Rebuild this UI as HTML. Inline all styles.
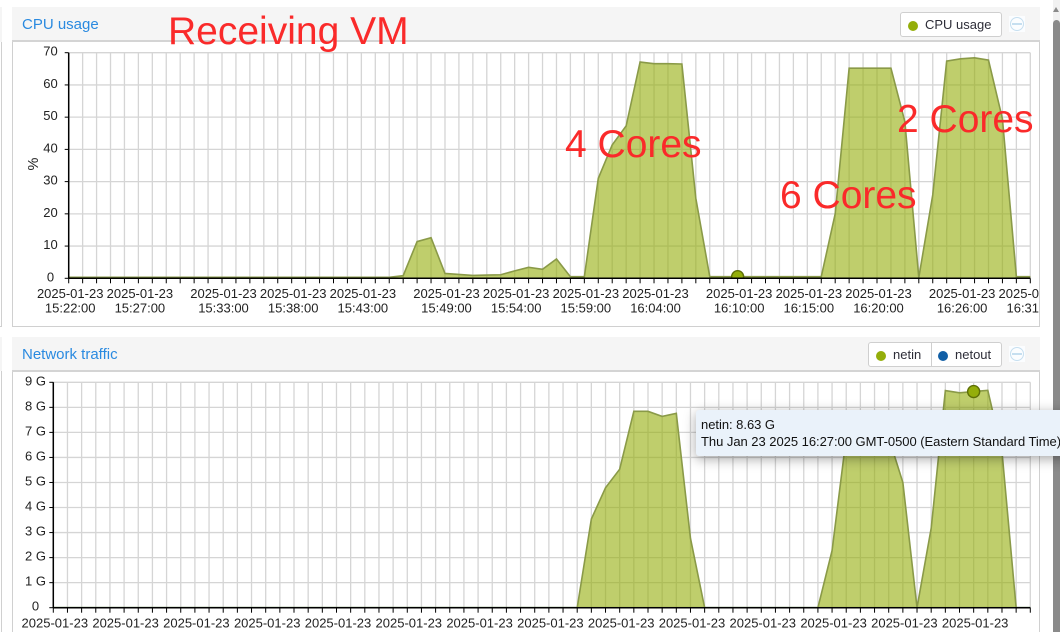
<!DOCTYPE html>
<html lang="en">
<head>
<meta charset="utf-8">
<title>Receiving VM charts</title>
<style>
html,body{margin:0;padding:0;background:#fff;width:1060px;height:632px;overflow:hidden;font-family:"Liberation Sans",sans-serif;}
#page{position:relative;width:1060px;height:632px;overflow:hidden;background:#fff;}
.abs{position:absolute;box-sizing:border-box;}
.panel-body{background:#fff;border:1px solid #d0d0d0;border-top:none;}
.panel-head{background:#f5f5f5;border-bottom:2px solid #d4d4d4;}
.title{color:#2a8ae0;font-size:15px;line-height:34px;white-space:nowrap;}
.legend{background:#fff;border:1px solid #cfcfcf;border-radius:3px;height:25px;}
.dot{position:absolute;width:10px;height:10px;border-radius:50%;}
.ltext{position:absolute;font-size:13px;line-height:16px;color:#2d2d38;white-space:nowrap;}
.tool{width:16px;height:16px;background:#fbfdff;}
.tool i{position:absolute;left:1px;top:1px;width:14px;height:14px;box-sizing:border-box;border:1px solid #c6dff0;border-radius:50%;}
.tool b{position:absolute;left:3px;top:7px;width:10px;height:2px;background:#c6dff0;}
svg{position:absolute;left:0;top:0;}
svg text{font-family:"Liberation Sans",sans-serif;font-size:13px;fill:#222;}
svg text.note{font-size:39px;fill:#fa2a2a;}
svg text.axis-title{font-size:14.5px;}
#tooltip{left:696px;top:410px;width:380px;height:46px;background:#eaf2fa;border-radius:3px;box-shadow:0 3px 12px rgba(0,0,0,.35);font-size:13px;color:#111;white-space:nowrap;padding:6px 0 0 5px;line-height:17px;letter-spacing:-0.035px;}
</style>
</head>
<body>
<div id="page">
  <div class="abs" style="left:0;top:7px;width:2px;height:35px;background:#f5f5f5"></div>
  <div class="abs" style="left:0;top:42px;width:2px;height:285px;border-right:1px solid #d0d0d0;border-bottom:1px solid #d0d0d0"></div>
  <div class="abs" style="left:0;top:337px;width:2px;height:34px;background:#f5f5f5"></div>
  <div class="abs" style="left:0;top:371px;width:2px;height:261px;border-right:1px solid #d0d0d0"></div>

  <div class="abs panel-body" style="left:12px;top:41px;width:1028px;height:286px"></div>
  <div class="abs panel-head" style="left:12px;top:7px;width:1028px;height:35px"></div>
  <div class="abs title" style="left:22px;top:8px">CPU usage</div>
  <div class="abs legend" style="left:900px;top:12px;width:102px">
    <span class="dot" style="left:7px;top:8px;background:#94ae0a"></span>
    <span class="ltext" style="left:24px;top:4px">CPU usage</span>
  </div>
  <div class="abs tool" style="left:1009px;top:16px"><i></i><b></b></div>

  <div class="abs panel-body" style="left:12px;top:371px;width:1028px;height:270px"></div>
  <div class="abs panel-head" style="left:12px;top:337px;width:1028px;height:35px"></div>
  <div class="abs title" style="left:22px;top:338px">Network traffic</div>
  <div class="abs legend" style="left:868px;top:342px;width:134px">
    <span class="dot" style="left:7px;top:8px;background:#94ae0a"></span>
    <span class="ltext" style="left:24px;top:4px">netin</span>
    <span class="abs" style="left:62px;top:0;width:1px;height:23px;background:#cfcfcf"></span>
    <span class="dot" style="left:69px;top:8px;background:#115fa6"></span>
    <span class="ltext" style="left:86px;top:4px">netout</span>
  </div>
  <div class="abs tool" style="left:1009px;top:346px"><i></i><b></b></div>

  <div class="abs" style="left:1053px;top:0;width:7px;height:632px;background:#f1f1f1"></div>
  <div class="abs" style="left:1053px;top:20px;width:7px;height:612px;background:#8a8a8a;border-radius:4px 4px 0 0"></div>
  <div class="abs" style="left:1053px;top:7px;width:0;height:0;border-left:3.5px solid transparent;border-right:3.5px solid transparent;border-bottom:5px solid #8a8a8a"></div>

  <svg id="cpu-chart" width="1039" height="327" viewBox="0 0 1039 327"></svg>
  <svg id="net-chart" width="1039" height="632" viewBox="0 0 1039 632"></svg>

  <svg width="1060" height="632" viewBox="0 0 1060 632">
    <text class="note" x="168" y="44">Receiving VM</text>
    <text class="note" x="565" y="157">4 Cores</text>
    <text class="note" x="780" y="208">6 Cores</text>
    <text class="note" x="897" y="132">2 Cores</text>
  </svg>

  <div class="abs" id="tooltip">netin: 8.63 G<br>Thu Jan 23 2025 16:27:00 GMT-0500 (Eastern Standard Time)</div>
</div>

<script>
const timeCategories = [
'15:22:00','15:23:00','15:24:00','15:25:00','15:26:00','15:27:00','15:28:00','15:29:00','15:30:00','15:31:00',
'15:32:00','15:33:00','15:34:00','15:35:00','15:36:00','15:37:00','15:38:00','15:39:00','15:40:00','15:41:00',
'15:42:00','15:43:00','15:44:00','15:45:00','15:46:00','15:47:00','15:48:00','15:49:00','15:50:00','15:51:00',
'15:52:00','15:53:00','15:54:00','15:55:00','15:56:00','15:57:00','15:58:00','15:59:00','16:00:00','16:01:00',
'16:02:00','16:03:00','16:04:00','16:05:00','16:06:00','16:07:00','16:08:00','16:09:00','16:10:00','16:11:00',
'16:12:00','16:13:00','16:14:00','16:15:00','16:16:00','16:17:00','16:18:00','16:19:00','16:20:00','16:21:00',
'16:22:00','16:23:00','16:24:00','16:25:00','16:26:00','16:27:00','16:28:00','16:29:00','16:30:00','16:31:00'];

const cpuUsage = [
0.3,0.3,0.3,0.3,0.3,0.3,0.3,0.3,0.3,0.3,
0.3,0.3,0.3,0.3,0.3,0.3,0.3,0.3,0.3,0.3,
0.3,0.3,0.3,0.3,0.8,11.4,12.6,1.5,1.2,0.9,
1.0,1.1,2.3,3.4,2.8,6.0,0.5,0.5,31,41.4,
47.3,67.1,66.6,66.6,66.5,24.8,0.5,0.5,0.5,0.5,
0.5,0.5,0.5,0.5,0.5,20,65.2,65.2,65.2,65.2,
48.6,0.2,25.9,67.4,68.1,68.4,67.7,49.5,0.5,0.5];

const netinValues = [
0,0,0,0,0,0,0,0,0,0,
0,0,0,0,0,0,0,0,0,0,
0,0,0,0,0,0,0,0,0,0,
0,0,0,0,0,0,0,0,3.54,4.79,
5.53,7.84,7.84,7.64,7.76,2.77,0,0,0,0,
0,0,0,0,0,2.28,6.8,6.8,6.8,6.8,
5.0,0,3.17,8.67,8.58,8.63,8.68,6.23,0,0];

const netoutValues = [
0,0,0,0,0,0,0,0,0,0,
0,0,0,0,0,0,0,0,0,0,
0,0,0,0,0,0,0,0,0,0,
0,0,0,0,0,0,0,0,0,0,
0,0,0,0,0,0,0,0,0,0,
0,0,0,0,0,0,0,0,0,0,
0,0,0,0,0,0,0,0,0,0];

const cpuYTicks = [0,10,20,30,40,50,60,70];
const cpuYTickLabels = ['0','10','20','30','40','50','60','70'];
const netYTicks = [0,1,2,3,4,5,6,7,8,9];
const netYTickLabels = ['0','1 G','2 G','3 G','4 G','5 G','6 G','7 G','8 G','9 G'];
const dateLabel = '2025-01-23';
const cpuLabelTimes = ['15:22:00','15:27:00','15:33:00','15:38:00','15:43:00','15:49:00','15:54:00','15:59:00','16:04:00','16:10:00','16:15:00','16:20:00','16:26:00','16:31:00'];
const netLabelTimes = ['15:22:00','15:27:00','15:32:00','15:37:00','15:42:00','15:47:00','15:52:00','15:57:00','16:02:00','16:07:00','16:12:00','16:17:00','16:22:00','16:27:00'];
const cpuHighlightTime = '16:10:00';
const netHighlightTime = '16:27:00';

const NS = 'http://www.w3.org/2000/svg';
function make(parent, tag) {
  const el = document.createElementNS(NS, tag);
  parent.appendChild(el);
  return el;
}

function drawChart(svg, box, yTicks, yLabels, yLabelX, xLabelTimes, showTime, highlightTime, series, clipMarker) {
  const lastIndex = timeCategories.length - 1;
  const xAt = function (i) { return box.x0 + i * (box.x1 - box.x0) / lastIndex; };
  const yAt = function (v) { return box.bottom - v / box.max * (box.bottom - box.top); };

  // vertical grid lines
  timeCategories.forEach(function (t, i) {
    const g = make(svg, 'line');
    g.setAttribute('x1', xAt(i));
    g.setAttribute('x2', xAt(i));
    g.setAttribute('y1', box.top);
    g.setAttribute('y2', box.bottom);
    g.setAttribute('stroke', '#d5d5d5');
    g.setAttribute('stroke-width', '1.3');
    
    
  });

  // horizontal grid lines
  yTicks.forEach(function (v) {
    const g = make(svg, 'line');
    g.setAttribute('x1', box.x0);
    g.setAttribute('x2', box.x1);
    g.setAttribute('y1', yAt(v));
    g.setAttribute('y2', yAt(v));
    g.setAttribute('stroke', '#d5d5d5');
    g.setAttribute('stroke-width', '1.3');
    
    
  });

  // series
  series.forEach(function (s) {
    const pts = s.values.map(function (v, i) { return xAt(i).toFixed(2) + ',' + yAt(v).toFixed(2); });
    const area = make(svg, 'path');
    area.setAttribute('d', 'M' + xAt(0) + ',' + yAt(0) + ' L' + pts.join(' L') + ' L' + xAt(lastIndex) + ',' + yAt(0) + ' Z');
    area.setAttribute('fill', s.color);
    area.setAttribute('fill-opacity', '0.6');
    
    
    const line = make(svg, 'polyline');
    line.setAttribute('points', pts.join(' '));
    line.setAttribute('fill', 'none');
    line.setAttribute('stroke', s.stroke);
    line.setAttribute('stroke-width', '1.6');
    
    
  });

  // axes
  const yAxis = make(svg, 'line');
  yAxis.setAttribute('x1', box.x0);
  yAxis.setAttribute('x2', box.x0);
  yAxis.setAttribute('y1', box.top);
  yAxis.setAttribute('y2', box.bottom);
  yAxis.setAttribute('stroke', '#000');
  yAxis.setAttribute('stroke-width', '1.5');
  
  

  const xAxis = make(svg, 'line');
  xAxis.setAttribute('x1', box.x0);
  xAxis.setAttribute('x2', box.x1);
  xAxis.setAttribute('y1', box.bottom);
  xAxis.setAttribute('y2', box.bottom);
  xAxis.setAttribute('stroke', '#000');
  xAxis.setAttribute('stroke-width', '1.5');
  
  

  timeCategories.forEach(function (t, i) {
    const tick = make(svg, 'line');
    tick.setAttribute('x1', xAt(i));
    tick.setAttribute('x2', xAt(i));
    tick.setAttribute('y1', box.bottom);
    tick.setAttribute('y2', box.bottom + 5);
    tick.setAttribute('stroke', '#000');
    
    
  });

  yTicks.forEach(function (v, i) {
    const tick = make(svg, 'line');
    tick.setAttribute('x1', box.x0 - 4);
    tick.setAttribute('x2', box.x0);
    tick.setAttribute('y1', yAt(v));
    tick.setAttribute('y2', yAt(v));
    tick.setAttribute('stroke', '#000');
    
    
    const label = make(svg, 'text');
    label.setAttribute('x', yLabelX);
    label.setAttribute('y', yAt(v) + 3);
    label.setAttribute('text-anchor', 'middle');
    label.textContent = yLabels[i];
    
    
  });

  // x tick labels
  xLabelTimes.forEach(function (t) {
    const i = timeCategories.indexOf(t);
    const dateText = make(svg, 'text');
    dateText.setAttribute('x', xAt(i) + 1.5);
    dateText.setAttribute('y', box.bottom + 19.8);
    dateText.setAttribute('text-anchor', 'middle');
    dateText.textContent = dateLabel;
    
    
    if (showTime) {
      const timeText = make(svg, 'text');
      timeText.setAttribute('x', xAt(i) + 1.5);
      timeText.setAttribute('y', box.bottom + 34.3);
      timeText.setAttribute('text-anchor', 'middle');
      timeText.textContent = t;
      
      
    }
  });

  // hover marker
  const hi = timeCategories.indexOf(highlightTime);
  const marker = make(svg, 'circle');
  marker.setAttribute('cx', xAt(hi));
  marker.setAttribute('cy', yAt(series[series.length - 1].values[hi]));
  marker.setAttribute('r', '6');
  marker.setAttribute('fill', '#94ae0a');
  marker.setAttribute('stroke', '#5e6f06');
  marker.setAttribute('stroke-width', '1.4');
  
  
  if (clipMarker) {
    const cover = make(svg, 'rect');
    cover.setAttribute('x', xAt(hi) - 8);
    cover.setAttribute('y', box.bottom + 0.5);
    cover.setAttribute('width', 16);
    cover.setAttribute('height', 8);
    cover.setAttribute('fill', '#fff');
    
    
    const redraw = make(svg, 'line');
    redraw.setAttribute('x1', xAt(hi));
    redraw.setAttribute('x2', xAt(hi));
    redraw.setAttribute('y1', box.bottom);
    redraw.setAttribute('y2', box.bottom + 5);
    redraw.setAttribute('stroke', '#000');
    
    
    const axisFix = make(svg, 'line');
    axisFix.setAttribute('x1', xAt(hi) - 8);
    axisFix.setAttribute('x2', xAt(hi) + 8);
    axisFix.setAttribute('y1', box.bottom);
    axisFix.setAttribute('y2', box.bottom);
    axisFix.setAttribute('stroke', '#000');
    axisFix.setAttribute('stroke-width', '1.5');
    
    
  }
}

const cpuSvg = document.getElementById('cpu-chart');
drawChart(cpuSvg,
  {x0: 68.7, x1: 1030.3, top: 52.7, bottom: 278.3, max: 70},
  cpuYTicks, cpuYTickLabels, 50.5, cpuLabelTimes, true, cpuHighlightTime,
  [{name: 'cpu-usage', values: cpuUsage, color: '#94ae0a', stroke: '#8a9a48'}], true);

const yTitle = make(cpuSvg, 'text');
yTitle.setAttribute('class', 'axis-title');
yTitle.setAttribute('transform', 'translate(38,164) rotate(-90)');
yTitle.setAttribute('text-anchor', 'middle');
yTitle.textContent = '%';



const netSvg = document.getElementById('net-chart');
drawChart(netSvg,
  {x0: 53.3, x1: 1030.3, top: 382.3, bottom: 607.7, max: 9},
  netYTicks, netYTickLabels, 35.5, netLabelTimes, false, netHighlightTime,
  [{name: 'netout', values: netoutValues, color: '#115fa6', stroke: '#2f5f5a'},
   {name: 'netin', values: netinValues, color: '#94ae0a', stroke: '#8a9a48'}], false);
</script>
</body>
</html>
